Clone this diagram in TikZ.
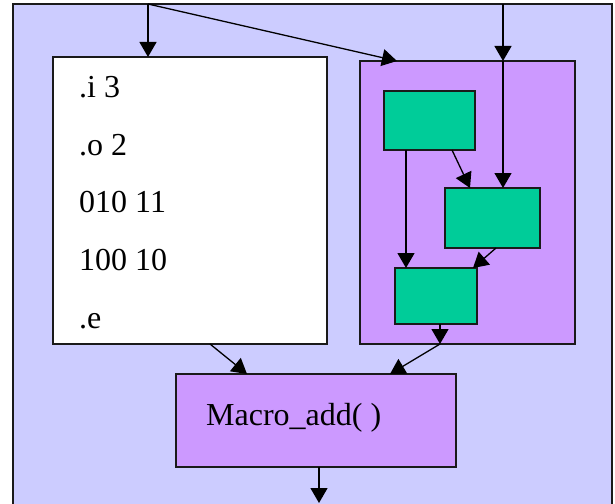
\documentclass[tikz,border=0pt]{standalone}
\usepackage{fontspec}
\setmainfont{Liberation Serif}
\usetikzlibrary{arrows.meta}
\definecolor{frameblue}{HTML}{CCCCFF}
\definecolor{blockpurple}{HTML}{CC99FF}
\definecolor{cellgreen}{HTML}{00CC99}
\definecolor{edge}{HTML}{1A1A1A}
\tikzset{
  box/.style={draw=edge, line width=1.3pt, inner sep=0pt, outer sep=0pt, rectangle},
  cell/.style={box, fill=cellgreen},
  lbl/.style={anchor=base west, inner sep=0pt, font=\fontsize{32}{38}\selectfont},
  flow/.style={draw=black, line width=1.3pt, -{Triangle[length=15pt,width=17pt]}},
}
\begin{document}
\begin{tikzpicture}[x=1pt,y=-1pt]
\useasboundingbox (0,0) rectangle (615,503);
\fill[white] (0,0) rectangle (615,503);

% enclosing frame, open at the bottom
\node[box, fill=frameblue, anchor=north west, minimum width=599pt, minimum height=520pt] (frame) at (13,4) {};

% truth-table block
\node[box, fill=white, anchor=north west, minimum width=274pt, minimum height=287pt] (table) at (53,57) {};
\node[lbl] (l1) at (79,97) {.i 3};
\node[lbl] (l2) at (79,155) {.o 2};
\node[lbl] (l3) at (79,212) {010 11};
\node[lbl] (l4) at (79,270) {100 10};
\node[lbl] (l5) at (79,328) {.e};

% sub-circuit block with its three cells
\node[box, fill=blockpurple, anchor=north west, minimum width=215pt, minimum height=283pt] (sub) at (360,61) {};
\node[cell, anchor=north west, minimum width=91pt, minimum height=59pt] (g1) at (384,91) {};
\node[cell, anchor=north west, minimum width=95pt, minimum height=60pt] (g2) at (445,188) {};
\node[cell, anchor=north west, minimum width=82pt, minimum height=56pt] (g3) at (395,268) {};

% combining macro
\node[box, fill=blockpurple, anchor=north west, minimum width=280pt, minimum height=93pt] (macro) at (176,374) {};
\node[lbl] (mtext) at (206,425) {Macro\_add( )};

% free ends on the frame edges
\coordinate (inA) at (148,4);
\coordinate (inB) at (503,4);
\coordinate (out) at (319,503);

% inputs
\draw[flow] (inA) -- (inA |- table.north);
\draw[flow] (inA) -- ([xshift=37pt]sub.north west);
\draw[flow] (inB) -- (inB |- sub.north);
\draw[flow] (inB |- sub.north) -- (inB |- g2.north);

% inside the sub-circuit
\draw[flow] ([xshift=22pt]g1.south west) -- ([xshift=22pt]g1.south west |- g3.north);
\draw[flow] ([xshift=68pt]g1.south west) -- ([xshift=25pt]g2.north west);
\draw[flow] ([xshift=3.5pt]g2.south) -- ([xshift=-4pt]g3.north east);
\draw[flow] ([xshift=4pt]g3.south) -- ([xshift=4pt]g3.south |- sub.south);

% into and out of the macro
\draw[flow] ([xshift=157pt]table.south west) -- ([xshift=71pt]macro.north west);
\draw[flow] ([xshift=80pt]sub.south west) -- ([xshift=214pt]macro.north west);
\draw[flow] (out |- macro.south) -- (out);
\end{tikzpicture}
\end{document}
